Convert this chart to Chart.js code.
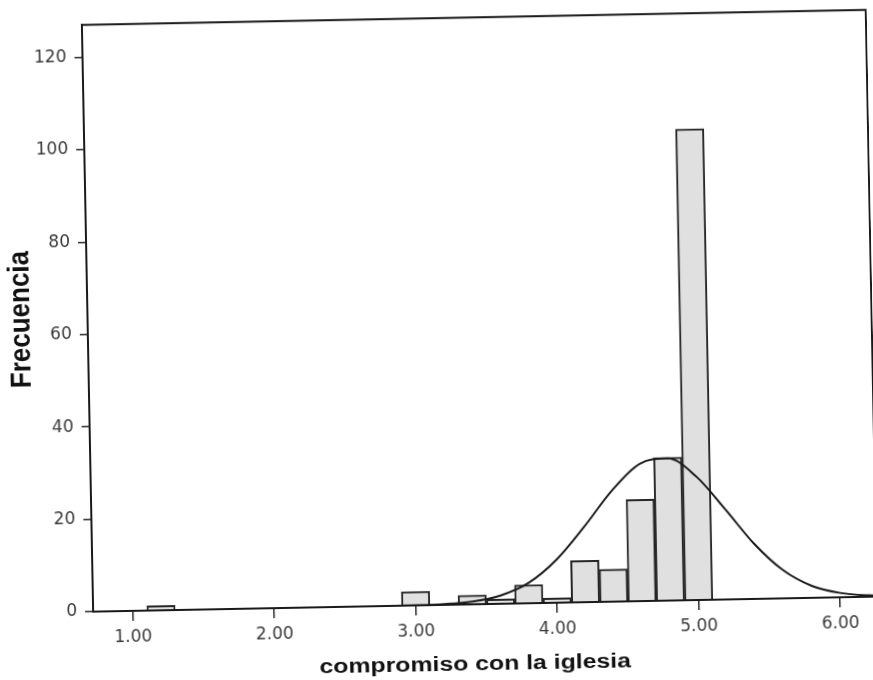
<!DOCTYPE html>
<html>
<head>
<meta charset="utf-8">
<title>compromiso con la iglesia</title>
<script src="https://cdn.jsdelivr.net/npm/chart.js@4.4.1/dist/chart.umd.min.js"></script>
<style>
  html, body { margin: 0; padding: 0; background: #fff; overflow: hidden; }
  #wrap { width: 873px; height: 680px; transform: rotate(-1.1deg); transform-origin: 436px 340px; }
  canvas { display: block; }
</style>
</head>
<body>
<div id="wrap"><canvas id="hist" width="873" height="680"></canvas></div>
<script>
// Histogram bins (centre of each 0.2-wide class) and their counts
const binCenters = [1.2, 3.0, 3.4, 3.6, 3.8, 4.0, 4.2, 4.4, 4.6, 4.8, 5.0];
const frequencies = [1, 3, 2, 1, 4, 1, 9, 7, 22, 31, 102];

// Fitted normal curve, sampled along the x axis
const curveX = [2.6, 2.8, 3.0, 3.2, 3.4, 3.6, 3.8, 4.0, 4.2, 4.4, 4.6, 4.8, 5.0, 5.2, 5.4, 5.6, 5.8, 6.0, 6.2, 6.4];
const curveY = [0, 0.01, 0.04, 0.17, 0.6, 1.8, 4.4, 9.3, 16.3, 24.0, 29.7, 30.8, 26.7, 19.5, 11.9, 6.1, 2.6, 0.95, 0.3, 0.08];

// Axis ticks and titles
const xTicks = [1, 2, 3, 4, 5, 6];
const xTickLabels = ['1.00', '2.00', '3.00', '4.00', '5.00', '6.00'];
const yTicks = [0, 20, 40, 60, 80, 100, 120];
const xTitle = 'compromiso con la iglesia';
const yTitle = 'Frecuencia';

// Box around the plotting area
const frame = {
  id: 'frame',
  afterDatasetsDraw(chart) {
    const { ctx, chartArea: a } = chart;
    ctx.save();
    ctx.strokeStyle = '#1a1a1a';
    ctx.lineWidth = 2;
    ctx.strokeRect(a.left, a.top, a.right - a.left, a.bottom - a.top);
    ctx.restore();
  }
};

// Axis titles, set in a wide bold face
const axisTitles = {
  id: 'axisTitles',
  afterDraw(chart) {
    const { ctx, chartArea: a } = chart;
    ctx.save();
    ctx.fillStyle = '#111';
    ctx.font = 'bold 20px "Liberation Sans", Arial, sans-serif';
    ctx.textAlign = 'center';
    ctx.textBaseline = 'alphabetic';
    ctx.translate((a.left + a.right) / 2 - 11, 671);
    ctx.scale(1.24, 1);
    ctx.fillText(xTitle, 0, 0);
    ctx.restore();

    ctx.save();
    ctx.fillStyle = '#111';
    ctx.font = 'bold 26px "Liberation Sans", Arial, sans-serif';
    ctx.textAlign = 'center';
    ctx.textBaseline = 'middle';
    ctx.translate(22, (a.top + a.bottom) / 2);
    ctx.scale(1.1, 1);
    ctx.rotate(-Math.PI / 2);
    ctx.fillText(yTitle, 0, 0);
    ctx.restore();
  }
};

const tickFont = { family: '"DejaVu Sans", sans-serif', size: 17 };

new Chart(document.getElementById('hist'), {
  type: 'bar',
  data: {
    datasets: [
      {
        type: 'line',
        order: 0,
        data: curveX.map((x, i) => ({ x, y: curveY[i] })),
        borderColor: '#1a1a1a',
        borderWidth: 2,
        pointRadius: 0,
        fill: false,
        cubicInterpolationMode: 'monotone'
      },
      {
        type: 'bar',
        order: 1,
        data: binCenters.map((x, i) => ({ x, y: frequencies[i] })),
        backgroundColor: '#e0e0e0',
        borderColor: '#262626',
        borderWidth: 2,
        barPercentage: 1,
        categoryPercentage: 1
      }
    ]
  },
  options: {
    responsive: false,
    animation: false,
    events: [],
    layout: { padding: { top: 18, right: 1, left: 0, bottom: 0 } },
    plugins: { legend: { display: false }, tooltip: { enabled: false } },
    scales: {
      x: {
        type: 'linear',
        min: 0.72,
        max: 6.26,
        offset: false,
        afterBuildTicks: s => { s.ticks = xTicks.map(v => ({ value: v })); },
        afterFit: s => { s.height = 75; },
        grid: { display: true, offset: false, drawOnChartArea: false, drawTicks: true, tickLength: 10, color: '#2a2a2a', lineWidth: 1.5 },
        border: { display: true, color: '#1a1a1a', width: 2 },
        ticks: {
          font: tickFont, color: '#3a3a3a', padding: 6,
          maxRotation: 0, autoSkip: false,
          callback: (v, i) => xTickLabels[i]
        }
      },
      y: {
        min: 0,
        max: 127,
        afterBuildTicks: s => { s.ticks = yTicks.map(v => ({ value: v })); },
        afterFit: s => { s.width = 88; },
        grid: { display: true, drawOnChartArea: false, drawTicks: true, tickLength: 8, color: '#2a2a2a', lineWidth: 1.5 },
        border: { display: true, color: '#1a1a1a', width: 2 },
        ticks: {
          font: tickFont, color: '#3a3a3a', padding: 8,
          autoSkip: false,
          callback: v => String(v)
        }
      }
    }
  },
  plugins: [frame, axisTitles]
});
</script>
</body>
</html>
